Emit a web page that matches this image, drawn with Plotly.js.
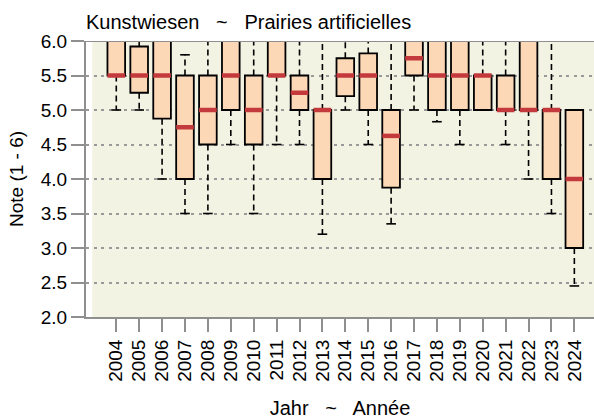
<!DOCTYPE html>
<html>
<head>
<meta charset="utf-8">
<script src="https://cdn.plot.ly/plotly-3.0.1.min.js"></script>
<style>html,body{margin:0;padding:0;background:#fff;}#chart{width:594px;height:419px;}</style>
</head>
<body>
<div id="chart"></div>
<script>
// ---- data ----
const years   = [2004,2005,2006,2007,2008,2009,2010,2011,2012,2013,2014,2015,2016,2017,2018,2019,2020,2021,2022,2023,2024];
const q1      = [5.5, 5.25,4.875,4.0, 4.5, 5.0, 4.5, 5.5, 5.0, 4.0, 5.2, 5.0, 3.875,5.5, 5.0, 5.0, 5.0, 5.0, 5.0, 4.0, 3.0];
const medians = [5.5, 5.5, 5.5, 4.75,5.0, 5.5, 5.0, 5.5, 5.25,5.0, 5.5, 5.5, 4.625,5.75,5.5, 5.5, 5.5, 5.0, 5.0, 5.0, 4.0];
const q3      = [6.0, 5.92,6.0, 5.5, 5.5, 6.0, 5.5, 6.0, 5.5, 5.0, 5.75,5.82,5.0, 6.0, 6.0, 6.0, 5.5, 5.5, 6.0, 5.0, 5.0];
const lowerW  = [5.0, 5.0, 4.0, 3.5, 3.5, 4.5, 3.5, 4.5, 4.5, 3.2, 5.0, 4.5, 3.35,5.0, 4.83,4.5, 5.0, 4.5, 4.0, 3.5, 2.45];
const upperW  = [6.0, 6.0, 6.0, 5.8, 6.0, 6.0, 6.0, 6.0, 6.0, 6.0, 6.0, 6.0, 6.0, 6.0, 6.0, 6.0, 6.0, 6.0, 6.0, 6.0, 5.0];
const yTicks  = [2.0,2.5,3.0,3.5,4.0,4.5,5.0,5.5,6.0];
const yTickText = ['2.0','2.5','3.0','3.5','4.0','4.5','5.0','5.5','6.0'];
const titleText = 'Kunstwiesen   ~   Prairies artificielles';
const xTitle = 'Jahr   ~   Année';
const yTitle = 'Note (1 - 6)';

// ---- styles ----
const FONT = 'Liberation Sans, Arial, sans-serif';
const FS = 19;
const TFS = 20;
const boxW = 0.77, capHalf = 0.21;
const AXC = '#8f8f8f';

// build segments
const wx = [], wy = [], cx = [], cy = [], mx = [], my = [];
years.forEach((yr, i) => {
  wx.push(yr, yr, null, yr, yr, null);
  wy.push(q3[i], upperW[i], null, q1[i], lowerW[i], null);
  cx.push(yr - capHalf, yr + capHalf, null, yr - capHalf, yr + capHalf, null);
  cy.push(upperW[i], upperW[i], null, lowerW[i], lowerW[i], null);
  mx.push(yr - boxW/2, yr + boxW/2, null);
  my.push(medians[i], medians[i], null);
});

const traces = [
  {type:'scatter', mode:'lines', x:wx, y:wy, hoverinfo:'skip', showlegend:false,
   line:{color:'#000', width:1.6, dash:'6px,4px'}},
  {type:'scatter', mode:'lines', x:cx, y:cy, hoverinfo:'skip', showlegend:false,
   line:{color:'#000', width:1.6}},
  {type:'bar', x:years, base:q1, y:q3.map((v,i)=>v-q1[i]), width:boxW, showlegend:false,
   marker:{color:'#FDD8B6', line:{color:'#000', width:1.8}}},
  {type:'scatter', mode:'lines', x:mx, y:my, hoverinfo:'skip', showlegend:false,
   line:{color:'#C43A3C', width:4.5}}
];

const layout = {
  width:594, height:419,
  margin:{l:86, r:0, t:41, b:102},
  paper_bgcolor:'#fff', plot_bgcolor:'#fff',
  font:{family:FONT, size:FS, color:'#000'},
  title:{text:titleText, font:{family:FONT, size:TFS, color:'#000'},
         x:0, xref:'paper', xanchor:'left', y:1-21.5/419, yref:'container', yanchor:'middle'},
  xaxis:{range:[2002.678, 2024.858], tickvals:years, ticktext:years.map(String), tickangle:-90,
         ticks:'outside', ticklen:13, tickwidth:2, tickcolor:AXC,
         showline:true, linecolor:AXC, linewidth:2, showgrid:false, zeroline:false,
         tickfont:{family:FONT, size:FS, color:'#000'},
         title:{text:xTitle, font:{family:FONT, size:TFS, color:'#000'}, standoff:26}, automargin:false, fixedrange:true},
  yaxis:{range:[2,6], tickvals:yTicks, ticktext:yTickText,
         ticks:'outside', ticklen:13, tickwidth:2, tickcolor:AXC,
         showline:true, linecolor:AXC, linewidth:2, showgrid:true, gridcolor:'#999', gridwidth:2, griddash:'3px,4.5px',
         zeroline:false, tickfont:{family:FONT, size:FS, color:'#000'},
         title:{text:yTitle, font:{family:FONT, size:FS, color:'#000'}, standoff:12}, automargin:false, fixedrange:true},
  shapes:[
    {type:'rect', xref:'x', yref:'paper', x0:2002.95, x1:2026, y0:0, y1:1, fillcolor:'#F3F3E3', line:{width:0}, layer:'below'},
    {type:'line', xref:'paper', yref:'y', x0:0, x1:1, y0:6, y1:6, line:{color:AXC, width:2}, layer:'above'}
  ],
  bargap:0, showlegend:false
};

Plotly.newPlot('chart', traces, layout, {displayModeBar:false, staticPlot:true});
</script>
</body>
</html>
